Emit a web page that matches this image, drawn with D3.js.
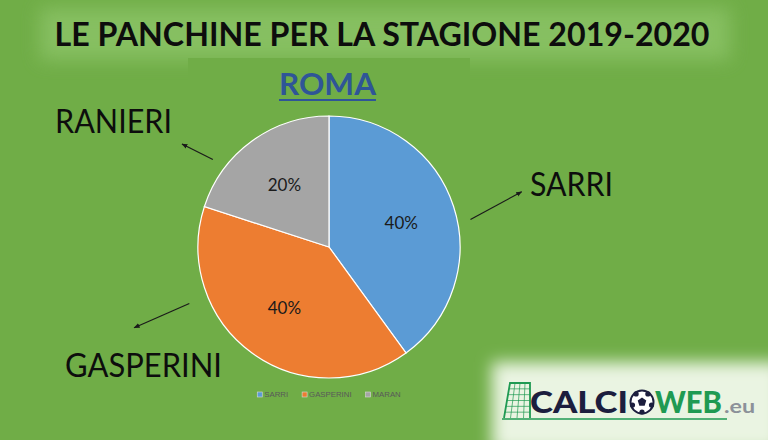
<!DOCTYPE html>
<html>
<head>
<meta charset="utf-8">
<script src="https://cdn.jsdelivr.net/npm/d3@7"></script>
<style>
  html, body { margin: 0; padding: 0; background: #70ad47; }
  svg { display: block; }
</style>
</head>
<body>
<div id="chart"></div>
<script>
// data
const coaches = ['SARRI', 'GASPERINI', 'MARAN'];
const shares = [40, 40, 20];
const sliceColors = ['#5b9bd5', '#ed7d31', '#a5a5a5'];
const calloutNames = ['SARRI', 'GASPERINI', 'RANIERI'];
const title = 'LE PANCHINE PER LA STAGIONE 2019-2020';
const team = 'ROMA';

const W = 768, H = 440;
const cx = 329, cy = 247, R = 131;

const svg = d3.select('#chart').append('svg')
  .attr('width', W).attr('height', H);

const defs = svg.append('defs');
defs.append('filter').attr('id', 'soft').attr('x', '-20%').attr('y', '-50%').attr('width', '140%').attr('height', '200%')
  .append('feGaussianBlur').attr('stdDeviation', 9);
defs.append('filter').attr('id', 'soft2').attr('x', '-20%').attr('y', '-50%').attr('width', '140%').attr('height', '200%')
  .append('feGaussianBlur').attr('stdDeviation', 8);
defs.append('marker').attr('id', 'head').attr('viewBox', '0 0 10 10')
  .attr('refX', 9).attr('refY', 5).attr('markerWidth', 5).attr('markerHeight', 5)
  .attr('orient', 'auto')
  .append('path').attr('d', 'M0,1 L10,5 L0,9 Z').attr('fill', '#1a1a1a');

svg.append('rect').attr('width', W).attr('height', H).attr('fill', '#70ad47');

// glow behind title
svg.append('rect').attr('x', 40).attr('y', 8).attr('width', 690).attr('height', 52)
  .attr('fill', '#8cc468').attr('opacity', 0.8).attr('filter', 'url(#soft)');

svg.append('text')
  .attr('x', 382).attr('y', 46).attr('text-anchor', 'middle')
  .attr('font-family', 'Lato, "Open Sans", sans-serif').attr('font-weight', 700)
  .attr('font-size', 33).attr('fill', '#0d0d0d')
  .attr('textLength', 655).attr('lengthAdjust', 'spacingAndGlyphs')
  .text(title);

// chart area (cuts the glow with a flat edge)
svg.append('rect').attr('x', 188).attr('y', 58).attr('width', 282).attr('height', 340)
  .attr('fill', '#70ad47');

svg.append('text')
  .attr('x', 327.5).attr('y', 95).attr('text-anchor', 'middle')
  .attr('font-family', 'Lato, "Open Sans", sans-serif').attr('font-weight', 700)
  .attr('font-size', 30).attr('fill', '#2f5597')
  .attr('textLength', 97).attr('lengthAdjust', 'spacingAndGlyphs')
  .text(team);
svg.append('line').attr('x1', 279).attr('x2', 376).attr('y1', 100).attr('y2', 100)
  .attr('stroke', '#2f5597').attr('stroke-width', 2.2);

// pie
const pie = d3.pie().sort(null).value(d => d.v);
const arcs = pie(coaches.map((c, i) => ({ name: c, v: shares[i], color: sliceColors[i] })));
const arc = d3.arc().innerRadius(0).outerRadius(R);
const labelArc = d3.arc().innerRadius(R * 0.58).outerRadius(R * 0.58);
const total = d3.sum(shares);

const g = svg.append('g').attr('transform', `translate(${cx},${cy})`);
g.selectAll('path.slice').data(arcs).join('path').attr('class', 'slice')
  .attr('d', arc).attr('fill', d => d.data.color)
  .attr('stroke', '#ffffff').attr('stroke-width', 1.2);

g.selectAll('text.pct').data(arcs).join('text').attr('class', 'pct')
  .attr('transform', d => `translate(${labelArc.centroid(d)})`)
  .attr('text-anchor', 'middle').attr('dy', '0.35em')
  .attr('font-family', 'Lato, "Open Sans", sans-serif').attr('font-size', 17)
  .attr('fill', '#1a1a1a')
  .text(d => `${Math.round(d.data.v / total * 100)}%`);

// callouts (big names with arrows), placed radially around the pie
const calloutLayout = {
  SARRI:     { a0: 79,  r0: 1.10, a1: 74,    r1: 1.53, x: 530, y: 196, w: 83 },
  GASPERINI: { a0: 248, r0: 1.15, a1: 247.5, r1: 1.61, x: 65,  y: 377, w: 157 },
  RANIERI:   { a0: 307, r0: 1.11, a1: 305,   r1: 1.37, x: 55,  y: 133, w: 117 }
};
const rad = a => a * Math.PI / 180;
calloutNames.forEach(name => {
  const c = calloutLayout[name];
  const p0 = d3.pointRadial(rad(c.a0), R * c.r0);
  const p1 = d3.pointRadial(rad(c.a1), R * c.r1);
  g.append('line')
    .attr('x1', p0[0]).attr('y1', p0[1]).attr('x2', p1[0]).attr('y2', p1[1])
    .attr('stroke', '#1a1a1a').attr('stroke-width', 1.2).attr('marker-end', 'url(#head)');
  svg.append('text')
    .attr('x', c.x).attr('y', c.y)
    .attr('font-family', 'Lato, "Open Sans", sans-serif').attr('font-size', 32)
    .attr('fill', '#0d0d0d')
    .attr('textLength', c.w).attr('lengthAdjust', 'spacingAndGlyphs')
    .text(name);
});

// legend
const legend = svg.append('g').attr('transform', `translate(0,396)`);
const items = legend.selectAll('g').data(arcs).join('g');
items.append('rect').attr('width', 5).attr('height', 5).attr('y', -4)
  .attr('fill', d => d.data.color).attr('stroke', '#d9d9d9').attr('stroke-width', 0.6);
items.append('text').attr('x', 7).attr('y', 0.5)
  .attr('font-family', '"Liberation Sans", Arial, sans-serif').attr('font-size', 7.8)
  .attr('fill', '#595959').text(d => d.data.name);
let lx = 0;
const pos = [];
items.each(function () {
  pos.push(lx);
  lx += this.getBBox().width + 14;
});
const legendW = lx - 14;
items.attr('transform', (d, i) => `translate(${cx - legendW / 2 + pos[i]},0)`);

// logo
const logo = svg.append('g');
logo.append('rect').attr('x', 492).attr('y', 362).attr('width', 290).attr('height', 90)
  .attr('fill', '#eaf4e2').attr('filter', 'url(#soft2)');
const green = '#1f9a52';
const goal = logo.append('g').attr('stroke', green).attr('fill', 'none');
goal.append('path').attr('d', 'M504,418 L510,383 L530,383 L530,418')
  .attr('stroke-width', 1.8);
d3.range(1, 6).forEach(i => {
  const yy = 383 + i * 35 / 6;
  const xl = 510 - (yy - 383) * 6 / 35;
  goal.append('line').attr('x1', xl).attr('x2', 530).attr('y1', yy).attr('y2', yy).attr('stroke-width', 0.7);
});
d3.range(1, 4).forEach(i => {
  goal.append('line').attr('x1', 510 + i * 5).attr('x2', 504 + i * 6.5)
    .attr('y1', 383).attr('y2', 418).attr('stroke-width', 0.7);
});
logo.append('line').attr('x1', 502).attr('x2', 727).attr('y1', 419).attr('y2', 419)
  .attr('stroke', green).attr('stroke-width', 1.6);
logo.append('text').attr('x', 530).attr('y', 413)
  .attr('font-family', 'Lato, "DejaVu Sans", sans-serif').attr('font-weight', 900)
  .attr('font-size', 31).attr('fill', '#1c1e3e')
  .attr('textLength', 98).attr('lengthAdjust', 'spacingAndGlyphs').text('CALCI');
const ball = logo.append('g').attr('transform', 'translate(642,402)');
ball.append('circle').attr('r', 11.5).attr('fill', '#ffffff').attr('stroke', '#1c1e3e').attr('stroke-width', 2);
ball.append('path').attr('d', d3.range(5).map((i, k) => {
  const p = d3.pointRadial(i * 2 * Math.PI / 5, 4.5);
  return (k ? 'L' : 'M') + p[0] + ',' + p[1];
}).join('') + 'Z').attr('fill', '#1c1e3e');
d3.range(5).forEach(i => {
  const p = d3.pointRadial(i * 2 * Math.PI / 5 + Math.PI / 5, 10);
  ball.append('circle').attr('cx', p[0]).attr('cy', p[1]).attr('r', 2.6).attr('fill', '#1c1e3e');
});
logo.append('text').attr('x', 655).attr('y', 413)
  .attr('font-family', 'Lato, "DejaVu Sans", sans-serif').attr('font-weight', 900)
  .attr('font-size', 31).attr('fill', green)
  .attr('textLength', 67).attr('lengthAdjust', 'spacingAndGlyphs').text('WEB');
logo.append('text').attr('x', 724).attr('y', 413)
  .attr('font-family', 'Lato, "DejaVu Sans", sans-serif').attr('font-weight', 700)
  .attr('font-size', 19).attr('fill', '#8c9199')
  .attr('textLength', 31).attr('lengthAdjust', 'spacingAndGlyphs').text('.eu');
</script>
</body>
</html>
